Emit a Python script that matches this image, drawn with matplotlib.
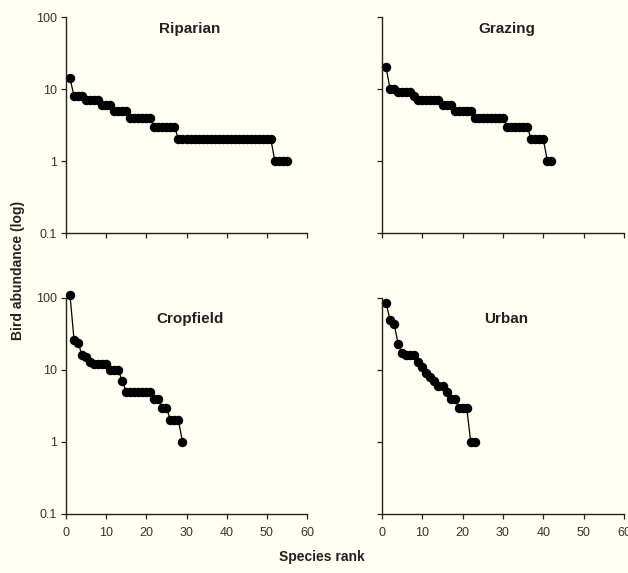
import matplotlib
matplotlib.use("Agg")
import matplotlib.pyplot as plt
from matplotlib.ticker import FixedLocator, NullLocator

plt.rcParams['font.family'] = ['Liberation Sans', 'DejaVu Sans']

# abundance of each species, ordered by rank
riparian = [14, 8, 8, 8, 7, 7, 7, 7, 6, 6, 6, 5, 5, 5, 5,
            4, 4, 4, 4, 4, 4, 3, 3, 3, 3, 3, 3] + [2] * 24 + [1] * 4
grazing = [20, 10, 10, 9, 9, 9, 9, 8, 7, 7, 7, 7, 7, 7, 6, 6, 6,
           5, 5, 5, 5, 5, 4, 4, 4, 4, 4, 4, 4, 4,
           3, 3, 3, 3, 3, 3, 2, 2, 2, 2, 1, 1]
cropfield = [110, 26, 24, 16, 15, 13, 12, 12, 12, 12, 10, 10, 10, 7,
             5, 5, 5, 5, 5, 5, 5, 4, 4, 3, 3, 2, 2, 2, 1]
urban = [85, 50, 44, 23, 17, 16, 16, 16, 13, 11, 9, 8, 7, 6, 6, 5,
         4, 4, 3, 3, 3, 1, 1]

panel_names = ["Riparian", "Grazing", "Cropfield", "Urban"]
panel_data = [riparian, grazing, cropfield, urban]
y_ticks = [0.1, 1, 10, 100]
y_ticklabels = ["0.1", "1", "10", "100"]
x_ticks = [0, 10, 20, 30, 40, 50, 60]

bg = "#fffff4"
fig = plt.figure(figsize=(6.28, 5.73), dpi=100, facecolor=bg)

W, H = 628, 573
# axes boxes in pixels: left, top, right, bottom
boxes = [(66, 17, 307, 233), (382, 17, 624, 233),
         (66, 298, 307, 514), (382, 298, 624, 514)]
title_y = [0.975, 0.975, 0.935, 0.935]

for k, (name, vals) in enumerate(zip(panel_names, panel_data)):
    l, t, r, b = boxes[k]
    ax = fig.add_axes([l / W, 1 - b / H, (r - l) / W, (b - t) / H])
    ax.set_facecolor(bg)
    ranks = list(range(1, len(vals) + 1))
    ax.plot(ranks, vals, color="black", lw=0.9, marker="o", ms=5.8,
            mfc="black", mec="black", clip_on=False)
    ax.set_yscale("log")
    ax.set_ylim(0.1, 100)
    ax.set_xlim(0, 60)
    ax.yaxis.set_major_locator(FixedLocator(y_ticks))
    ax.yaxis.set_minor_locator(NullLocator())
    ax.set_xticks(x_ticks)
    for side in ["top", "right"]:
        ax.spines[side].set_visible(False)
    for side in ["left", "bottom"]:
        ax.spines[side].set_color("#222222")
        ax.spines[side].set_linewidth(1.0)
    ax.tick_params(direction="out", length=3.5, width=0.9, color="#222222",
                   labelsize=9, labelcolor="#333333", pad=3)
    if k % 2 == 0:
        ax.set_yticklabels(y_ticklabels)
    else:
        ax.set_yticklabels([])
    if k < 2:
        ax.set_xticklabels([])
    else:
        ax.set_xticklabels([str(v) for v in x_ticks])
        ax.tick_params(axis="x", pad=6)
    ax.text(0.515, title_y[k], name, transform=ax.transAxes, ha="center",
            va="top", fontsize=11, fontweight="bold", color="#222222")

fig.text(18 / W, 1 - 270 / H, "Bird abundance (log)", rotation=90,
         ha="center", va="center", fontsize=10, fontweight="bold",
         color="#222222")
fig.text(322 / W, 1 - 557 / H, "Species rank", ha="center", va="center",
         fontsize=10, fontweight="bold", color="#222222")

fig.savefig("out.png", dpi=100, facecolor=bg)
